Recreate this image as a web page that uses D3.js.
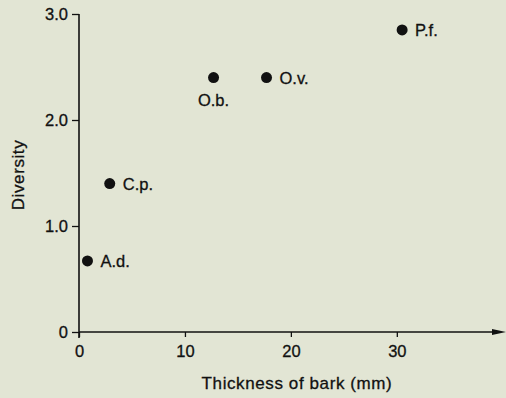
<!DOCTYPE html>
<html>
<head>
<meta charset="utf-8">
<script src="https://cdnjs.cloudflare.com/ajax/libs/d3/7.8.5/d3.min.js"></script>
<style>
  body { margin: 0; background: #e2e5d4; }
  svg { display: block; }
  text { font-family: "Liberation Sans", Arial, sans-serif; fill: #111; stroke: #111; stroke-width: 0.3px; }
</style>
</head>
<body>
<div class="scatterChart"></div>
<script>
// species labels, bark thickness (mm) and diversity
var species = ["A.d.", "C.p.", "O.b.", "O.v.", "P.f."];
var thickness = [0.8, 2.9, 12.7, 17.7, 30.5];
var diversity = [0.67, 1.40, 2.40, 2.40, 2.85];
var xTicks = [0, 10, 20, 30];
var yTicks = [0, 1, 2, 3];

var width = 506,
    height = 398,
    margin = { top: 14, left: 79 },
    plotW = 428,
    plotH = 318,
    fontSize = "16.5px";

var svg = d3.select(".scatterChart").append("svg")
    .attr("width", width)
    .attr("height", height);

var x = d3.scaleLinear().domain([0, 40.4]).range([margin.left, margin.left + plotW]);
var y = d3.scaleLinear().domain([0, 3]).range([margin.top + plotH, margin.top]);

// y axis
var yAxis = d3.axisLeft(y)
    .tickValues(yTicks)
    .tickSize(7)
    .tickPadding(4)
    .tickFormat(function(d) { return d === 0 ? "0" : d3.format(".1f")(d); });

var gy = svg.append("g")
    .attr("transform", "translate(" + margin.left + ",0)")
    .call(yAxis);
gy.select(".domain").remove();
gy.append("line")
    .attr("x1", 0).attr("x2", 0)
    .attr("y1", y(3)).attr("y2", y(0) + 6)
    .attr("stroke", "#111").attr("stroke-width", 1.6);
gy.selectAll(".tick line").attr("stroke", "#111").attr("stroke-width", 1.3);
gy.selectAll(".tick text").style("font-size", fontSize).attr("fill", "#111");

// x axis with arrow
var xAxis = d3.axisBottom(x)
    .tickValues(xTicks)
    .tickSize(5)
    .tickPadding(8);

var gx = svg.append("g")
    .attr("transform", "translate(0," + y(0) + ")")
    .call(xAxis);
gx.select(".domain").remove();
gx.append("line")
    .attr("x1", x(0)).attr("x2", width - 8)
    .attr("y1", 0).attr("y2", 0)
    .attr("stroke", "#111").attr("stroke-width", 1.6);
gx.append("path")
    .attr("d", "M" + (width - 14) + ",-3L" + width + ",0L" + (width - 14) + ",3Z")
    .attr("fill", "#111");
gx.selectAll(".tick line").attr("stroke", "#111").attr("stroke-width", 1.3);
gx.selectAll(".tick text").style("font-size", fontSize).attr("fill", "#111");

// axis titles
svg.append("text")
    .text("Diversity")
    .style("font-size", "17px")
    .style("letter-spacing", "0.6px")
    .attr("text-anchor", "middle")
    .attr("transform", "translate(24,175) rotate(-90)");

svg.append("text")
    .text("Thickness of bark (mm)")
    .style("font-size", "17px")
    .style("letter-spacing", "0.6px")
    .attr("text-anchor", "middle")
    .attr("x", 297)
    .attr("y", 389);

// points
var data = species.map(function(s, i) {
  return { name: s, t: thickness[i], d: diversity[i] };
});

var pt = svg.selectAll(".pt")
    .data(data)
    .enter().append("g")
    .attr("class", "pt")
    .attr("transform", function(d) { return "translate(" + x(d.t) + "," + y(d.d) + ")"; });

pt.append("circle")
    .attr("r", 5.5)
    .style("fill", "#111");

pt.append("text")
    .text(function(d) { return d.name; })
    .style("font-size", fontSize)
    .attr("x", function(d) { return d.name === "O.b." ? 0 : 13; })
    .attr("y", function(d) { return d.name === "O.b." ? 28 : 6; })
    .attr("text-anchor", function(d) { return d.name === "O.b." ? "middle" : "start"; });
</script>
</body>
</html>
